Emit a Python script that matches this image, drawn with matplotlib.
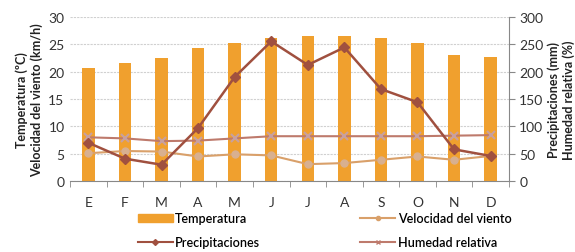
import numpy as np
import matplotlib.pyplot as plt
from matplotlib.patches import Patch
from matplotlib.lines import Line2D

plt.rcParams['font.family'] = ['Lato', 'DejaVu Sans']

# Data
months = ['E', 'F', 'M', 'A', 'M', 'J', 'J', 'A', 'S', 'O', 'N', 'D']
temperatura = [20.7, 21.6, 22.4, 24.3, 25.2, 26.1, 26.5, 26.5, 26.1, 25.2, 23.1, 22.6]
viento = [5.1, 5.5, 5.4, 4.5, 4.9, 4.7, 3.1, 3.3, 3.9, 4.5, 3.9, 4.6]
precipitaciones = [70, 41, 30, 97, 190, 255, 212, 244, 168, 144, 58, 46]
humedad = [80, 78, 73, 74, 78, 82, 82, 82, 82, 82, 83, 84]

c_bar = '#F0A02E'
c_wind = '#D9A06A'
c_prec = '#A0503F'
c_hum = '#BE7A6C'

fig = plt.figure(figsize=(5.75, 2.53), dpi=100)
ax = fig.add_axes([0.122, 0.28, 0.763, 0.65])
ax2 = ax.twinx()

x = np.arange(len(months))
ax.bar(x, temperatura, width=0.34, color=c_bar, zorder=2)
ax.plot(x, viento, color=c_wind, lw=1.5, marker='o', ms=5,
        mfc='#D8B090', mec='#D8B090', zorder=3)
ax2.plot(x, precipitaciones, color=c_prec, lw=1.8, marker='D', ms=5,
         mfc=c_prec, mec=c_prec, zorder=4)
ax2.plot(x, humedad, color=c_hum, lw=1.5, marker='x', ms=6, mew=1.5,
         mec='#C8A0A0', zorder=3)

ax.set_ylim(0, 30)
ax2.set_ylim(0, 300)
ax.set_xlim(-0.5, 11.5)
ax.set_yticks(range(0, 31, 5))
ax2.set_yticks(range(0, 301, 50))
ax.set_xticks(x)
ax.set_xticklabels(months)
ax.set_xticks(np.arange(-0.5, 12, 1), minor=True)
ax.tick_params(axis='x', which='major', length=0, pad=11, labelsize=10, colors='#333333')
ax.tick_params(axis='x', which='minor', length=4, color='#888888')
ax.tick_params(axis='y', length=0, labelsize=10, colors='#333333', pad=4)
ax2.tick_params(axis='y', length=4, color='#888888', labelsize=10, colors='#333333')

ax.yaxis.grid(True, color='#d0d0d0', lw=0.8, ls=(0, (2, 1)), zorder=0)
ax.set_axisbelow(True)
for a in (ax, ax2):
    a.spines['top'].set_visible(False)
    a.spines['left'].set_visible(False)
ax.spines['right'].set_visible(False)
ax.spines['bottom'].set_color('#888888')
ax2.spines['bottom'].set_visible(False)
ax2.spines['right'].set_color('#888888')

ax.set_ylabel('Temperatura (ºC)\nVelocidad del viento (km/h)', fontsize=9,
              fontweight='bold', color='#222222', labelpad=4)
ax2.set_ylabel('Precipitaciones (mm)\nHumedad relativa (%)', fontsize=9,
               fontweight='bold', color='#222222', labelpad=3)

handles = [
    Patch(color=c_bar, label='Temperatura'),
    Line2D([], [], color=c_prec, marker='D', ms=3, label='Precipitaciones'),
    Line2D([], [], color=c_wind, marker='o', ms=3, label='Velocidad del viento'),
    Line2D([], [], color=c_hum, marker='x', ms=3, label='Humedad relativa'),
]
fig.legend(handles=handles, ncol=2, loc='lower left', bbox_to_anchor=(0.22, -0.03),
           frameon=False, fontsize=9, columnspacing=8, handlelength=2.8,
           handletextpad=0.2, labelspacing=0.95,
           prop={'weight': 'semibold', 'size': 9})

fig.savefig('out.png', dpi=100)
